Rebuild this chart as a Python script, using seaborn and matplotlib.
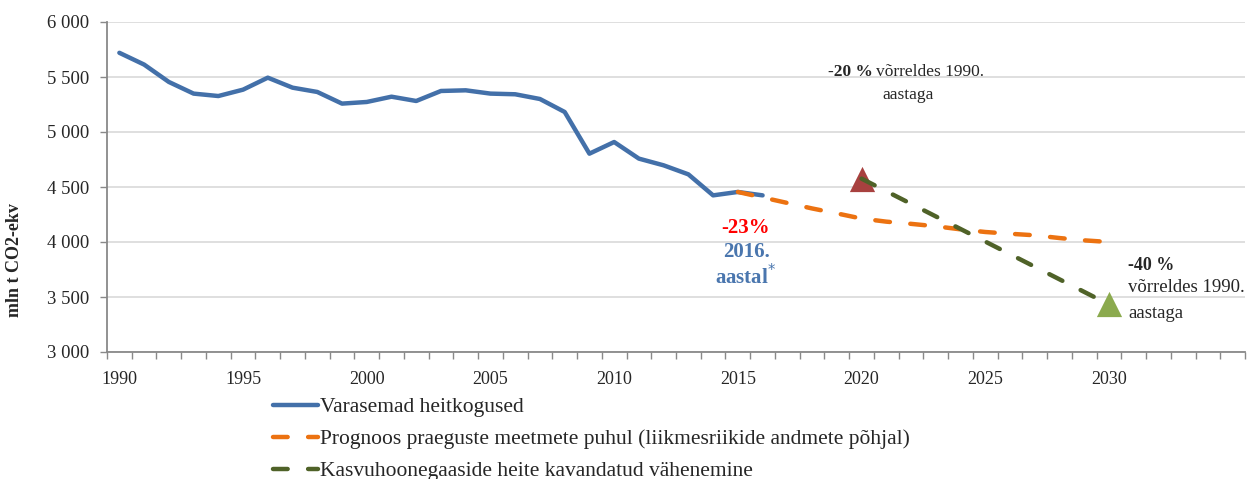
import numpy as np
import matplotlib
matplotlib.use("Agg")
import matplotlib.pyplot as plt
import seaborn as sns

# andmed (loetud jooniselt)
years_hist = list(range(1990, 2017))
emissions_hist = [5720, 5613, 5455, 5349, 5327, 5385, 5494, 5403, 5364, 5258,
                  5273, 5321, 5282, 5373, 5379, 5349, 5343, 5300, 5182, 4803,
                  4909, 4758, 4697, 4615, 4424, 4455, 4424]
years_proj = list(range(2015, 2031))
emissions_proj = [4455, 4405, 4355, 4305, 4260, 4213, 4185, 4165, 4143, 4115,
                  4091, 4075, 4061, 4036, 4015, 4000]
years_target = [2020, 2030]
emissions_target = [4576, 3432]

labels = ["Varasemad heitkogused",
          "Prognoos praeguste meetmete puhul (liikmesriikide andmete põhjal)",
          "Kasvuhoonegaaside heite kavandatud vähenemine"]
tick_years = list(range(1990, 2031, 5))
y_ticks = list(range(3000, 6001, 500))

c_blue = "#4370A9"
c_orange = "#EC7211"
c_green = "#4F6228"
c_red_tri = "#A8413F"
c_green_tri = "#8BAA4E"
c_grey = "#898989"

sns.set_theme(style="white")
plt.rcParams["font.family"] = ["Liberation Serif", "DejaVu Serif"]

fig = plt.figure(figsize=(12.5, 4.79), dpi=100)
ax = fig.add_axes([107 / 1250, 127 / 479, 1138 / 1250, 330 / 479])

# sihttasemed (kolmnurgad) joonte alla
sns.scatterplot(x=[years_target[0]], y=[emissions_target[0]], marker="^", s=330,
                color=c_red_tri, linewidth=0, ax=ax, zorder=3, legend=False)
sns.scatterplot(x=[years_target[1]], y=[emissions_target[1]], marker="^", s=330,
                color=c_green_tri, linewidth=0, ax=ax, zorder=3, legend=False)

sns.lineplot(x=years_hist, y=emissions_hist, color=c_blue, lw=3.2, ax=ax,
             label=labels[0], zorder=4, solid_capstyle="round")
sns.lineplot(x=years_proj, y=emissions_proj, color=c_orange, lw=3.2, ax=ax,
             label=labels[1], zorder=4, linestyle=(0, (3.3, 4.6)),
             dash_capstyle="round")
sns.lineplot(x=years_target, y=emissions_target, color=c_green, lw=3.2, ax=ax,
             label=labels[2], zorder=5, linestyle=(0, (3.3, 4.6)),
             dash_capstyle="round")

ax.set_xlim(1989.5, 2035.5)
ax.set_ylim(3000, 6000)
ax.set_yticks(y_ticks)
ax.set_yticklabels([f"{v:,}".replace(",", " ") for v in y_ticks], fontsize=13.5)
ax.yaxis.grid(True, color="#D9D9D9", lw=1.2)
ax.set_axisbelow(True)

ax.set_xticks(np.arange(1989.5, 2036, 1))
ax.set_xticklabels([])
ax.set_xticks(tick_years, minor=True)
ax.set_xticklabels([str(y) for y in tick_years], minor=True, fontsize=13)
ax.tick_params(axis="x", which="major", length=5, width=1, color=c_grey,
               direction="out", bottom=True)
ax.tick_params(axis="x", which="minor", length=0, pad=13.5)
ax.tick_params(axis="y", length=5, width=1, color=c_grey, direction="out",
               left=True, pad=8)

for side in ["top", "right"]:
    ax.spines[side].set_visible(False)
for side in ["left", "bottom"]:
    ax.spines[side].set_color(c_grey)
    ax.spines[side].set_linewidth(1.3)

ax.set_xlabel("")
ax.set_ylabel("mln t CO2-ekv", fontsize=13, fontweight="bold")
ax.yaxis.set_label_coords(-0.0735, 0.28)

# tekstid
ax.text(2015.33, 4125, "-23%", color="#FF0000", fontsize=15, fontweight="bold",
        ha="center", va="center")
ax.text(2015.33, 3907, "2016.", color="#4A76AE", fontsize=15, fontweight="bold",
        ha="center", va="center")
ax.text(2015.33, 3689, "aastal$^{*}$", color="#4A76AE", fontsize=15,
        fontweight="bold", ha="center", va="center")

ax.text(2020.45, 5542, "-20 %", fontsize=12.5, fontweight="bold",
        ha="right", va="center")
ax.text(2020.6, 5542, "võrreldes 1990.", fontsize=12.5, ha="left", va="center")
ax.text(2021.88, 5333, "aastaga", fontsize=12.5, ha="center", va="center")

ax.text(2030.77, 3788, "-40 %", fontsize=13, fontweight="bold",
        ha="left", va="center")
ax.text(2030.77, 3588, "võrreldes 1990.", fontsize=13.5, ha="left", va="center")
ax.text(2030.77, 3352, "aastaga", fontsize=13.5, ha="left", va="center")

handles, labs = ax.get_legend_handles_labels()
if ax.get_legend() is not None:
    ax.get_legend().remove()
leg = fig.legend(handles, labs, loc="upper left",
                 bbox_to_anchor=(273 / 1250, (479 - 397) / 479),
                 frameon=False, fontsize=15.5, handlelength=2.1,
                 handletextpad=0.1, labelspacing=0.56, borderpad=0,
                 borderaxespad=0)

fig.savefig("out.png", dpi=100)
